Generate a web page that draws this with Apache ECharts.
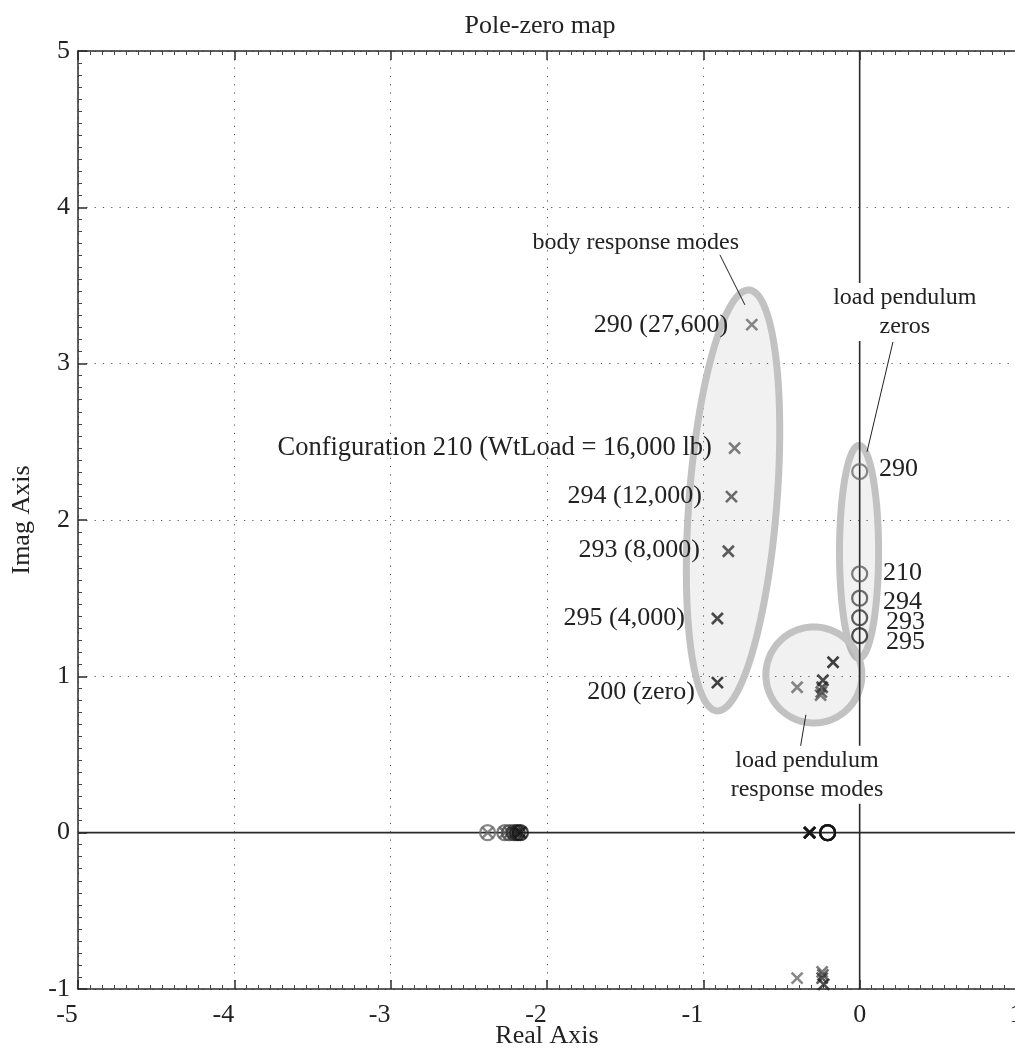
<!DOCTYPE html>
<html>
<head>
<meta charset="utf-8">
<script src="https://cdn.jsdelivr.net/npm/echarts@6/dist/echarts.min.js"></script>
<style>
html,body{margin:0;padding:0;background:#fff;}
#c{width:1015px;height:1055px;}
</style>
</head>
<body>
<div id="c"></div>
<script>
// ---------- data ----------
const configs = ['290', '210', '294', '293', '295', '200'];
const configLabels = ['290 (27,600)', 'Configuration 210 (WtLoad = 16,000 lb)', '294 (12,000)', '293 (8,000)', '295 (4,000)', '200 (zero)'];

// poles [real, imag]
const poles290 = [[-0.69, 3.25], [-0.40, 0.93], [-0.40, -0.93], [-2.38, 0], [-0.32, 0]];
const poles210 = [[-0.80, 2.46], [-0.25, 0.88], [-0.24, -0.89], [-2.27, 0], [-0.32, 0]];
const poles294 = [[-0.82, 2.15], [-0.245, 0.90], [-0.235, -0.91], [-2.24, 0], [-0.32, 0]];
const poles293 = [[-0.84, 1.80], [-0.24, 0.93], [-0.24, -0.93], [-2.21, 0], [-0.32, 0]];
const poles295 = [[-0.91, 1.37], [-0.235, 0.975], [-0.23, -0.97], [-2.19, 0], [-0.32, 0]];
const poles200 = [[-0.91, 0.96], [-0.17, 1.09], [-0.17, -1.09], [-2.17, 0], [-0.32, 0]];

// zeros [real, imag]
const zeros290 = [[0, 2.31], [-2.38, 0], [-0.205, 0]];
const zeros210 = [[0, 1.655], [-2.27, 0], [-0.205, 0]];
const zeros294 = [[0, 1.50], [-2.24, 0], [-0.205, 0]];
const zeros293 = [[0, 1.375], [-2.21, 0], [-0.205, 0]];
const zeros295 = [[0, 1.26], [-2.19, 0], [-0.205, 0]];
const zeros200 = [[-2.17, 0], [-0.205, 0]];

const xMin = -5, xMax = 1, yMin = -1, yMax = 5;

// ---------- annotation layout (data units) ----------
const ellipses = [
  { c: [-0.810, 2.125], a: 1.35, b: 0.281, tilt: 4.4 },
  { c: [-0.004, 1.796], a: 0.681, b: 0.125, tilt: 0 },
  { c: [-0.293, 1.009], a: 0.307, b: 0.307, tilt: 0 }
];
const leaders = [
  [[-0.894, 3.696], [-0.734, 3.376]],
  [[0.213, 3.139], [0.047, 2.436]],
  [[-0.344, 0.754], [-0.382, 0.530]]
];
const notes = [
  { text: 'body response modes', at: [-1.432, 3.773], align: 'center', size: 24, bg: false },
  { text: 'load pendulum\nzeros', at: [0.289, 3.331], align: 'center', size: 24, bg: true },
  { text: 'load pendulum\nresponse modes', at: [-0.337, 0.370], align: 'center', size: 24, bg: true },
  { text: configLabels[0], at: [-0.842, 3.248], align: 'right', size: 26 },
  { text: configLabels[1], at: [-0.945, 2.461], align: 'right', size: 26.5 },
  { text: configLabels[2], at: [-1.009, 2.154], align: 'right', size: 26 },
  { text: configLabels[3], at: [-1.022, 1.808], align: 'right', size: 26 },
  { text: configLabels[4], at: [-1.118, 1.373], align: 'right', size: 26 },
  { text: configLabels[5], at: [-1.054, 0.900], align: 'right', size: 26 },
  { text: configs[0], at: [0.123, 2.327], align: 'left', size: 26 },
  { text: configs[1], at: [0.149, 1.662], align: 'left', size: 26 },
  { text: configs[2], at: [0.149, 1.476], align: 'left', size: 26 },
  { text: configs[3], at: [0.168, 1.348], align: 'left', size: 26 },
  { text: configs[4], at: [0.168, 1.220], align: 'left', size: 26 }
];

// ---------- styles ----------
const FONT = '"Liberation Serif", "Times New Roman", serif';
const TXT = '#222';
const shade = { '290': '#6a6a6a', '210': '#5c5c5c', '294': '#4a4a4a', '293': '#353535', '295': '#202020', '200': '#111111' };
const polesBy = [poles290, poles210, poles294, poles293, poles295, poles200];
const zerosBy = [zeros290, zeros210, zeros294, zeros293, zeros295, zeros200];

const chart = echarts.init(document.getElementById('c'));

const series = [];
// ellipses (fills + outlines)
series.push({
  type: 'custom', z: 1, silent: true,
  data: ellipses.map(e => e.c),
  renderItem: function (params, api) {
    const e = ellipses[params.dataIndex];
    const th = e.tilt * Math.PI / 180;
    const pts = [];
    for (let i = 0; i < 180; i++) {
      const t = i / 180 * 2 * Math.PI;
      const dx = e.b * Math.cos(t), dy = e.a * Math.sin(t);
      pts.push(api.coord([e.c[0] + dx * Math.cos(th) + dy * Math.sin(th), e.c[1] - dx * Math.sin(th) + dy * Math.cos(th)]));
    }
    return { type: 'polygon', shape: { points: pts }, style: { fill: 'rgba(0,0,0,0.055)', stroke: '#c2c2c2', lineWidth: 7 } };
  }
});
// zero axes
series.push({ type: 'line', z: 3, silent: true, symbol: 'none', data: [[xMin, 0], [xMax, 0]], lineStyle: { color: '#2a2a2a', width: 1.6 } });
series.push({ type: 'line', z: 3, silent: true, symbol: 'none', data: [[0, yMin], [0, yMax]], lineStyle: { color: '#2a2a2a', width: 1.6 } });

// poles and zeros
configs.forEach((cfg, i) => {
  series.push({
    type: 'scatter', name: 'poles ' + cfg, z: 5, silent: true, clip: true,
    data: polesBy[i],
    symbol: 'path://M0,0L10,10M10,0L0,10', symbolSize: 11,
    itemStyle: { color: 'none', borderColor: shade[cfg], borderWidth: 2.6 }
  });
  series.push({
    type: 'scatter', name: 'zeros ' + cfg, z: 5, silent: true, clip: true,
    data: zerosBy[i],
    symbol: 'circle', symbolSize: 15,
    itemStyle: { color: 'none', borderColor: shade[cfg], borderWidth: 2.2 }
  });
});

// leader lines
series.push({
  type: 'custom', z: 6, silent: true,
  data: leaders.map(l => l[0]),
  renderItem: function (params, api) {
    const l = leaders[params.dataIndex];
    const p1 = api.coord(l[0]), p2 = api.coord(l[1]);
    return { type: 'line', shape: { x1: p1[0], y1: p1[1], x2: p2[0], y2: p2[1] }, style: { stroke: '#222', lineWidth: 1 } };
  }
});
// text notes
series.push({
  type: 'custom', z: 7, silent: true,
  data: notes.map(n => n.at),
  renderItem: function (params, api) {
    const n = notes[params.dataIndex];
    const p = api.coord(n.at);
    return {
      type: 'text', x: p[0], y: p[1],
      style: {
        text: n.text, fill: TXT, fontSize: n.size, fontFamily: FONT,
        align: n.align, verticalAlign: 'middle', lineHeight: 29,
        backgroundColor: n.bg ? '#ffffff' : null
      }
    };
  }
});

const axisLineStyle = { color: '#2a2a2a', width: 1.5 };
const option = {
  animation: false,
  backgroundColor: '#ffffff',
  title: {
    text: 'Pole-zero map', left: 535, top: 8, textAlign: 'center',
    textStyle: { fontFamily: FONT, fontSize: 26, fontWeight: 'normal', color: TXT }
  },
  grid: { left: 78, top: 51, width: 938, height: 938, containLabel: false, outerBoundsMode: 'none' },
  xAxis: [{
    type: 'value', min: xMin, max: xMax, interval: 1, position: 'bottom',
    name: 'Real Axis', nameLocation: 'middle', nameGap: 34, nameMoveOverlap: false,
    nameTextStyle: { fontFamily: FONT, fontSize: 26, color: TXT },
    axisLine: { show: true, onZero: false, lineStyle: axisLineStyle },
    axisTick: { show: true, inside: true, length: 9, lineStyle: axisLineStyle },
    minorTick: { show: true, splitNumber: 13, length: 4, lineStyle: { color: '#444', width: 1 } },
    splitLine: { show: true, lineStyle: { color: '#555', width: 1, type: [1.2, 7.1] } },
    axisLabel: {
      fontFamily: FONT, fontSize: 26, color: TXT, margin: 13, showMaxLabel: true, showMinLabel: true,
      formatter: v => v < 0 ? '{n|' + v + '}' : '{p|' + v + '}',
      rich: {
        n: { fontFamily: FONT, fontSize: 26, color: TXT, padding: [0, 22, 0, 0] },
        p: { fontFamily: FONT, fontSize: 26, color: TXT }
      }
    }
  }, {
    type: 'value', min: xMin, max: xMax, interval: 1, position: 'top',
    axisLine: { show: true, onZero: false, lineStyle: axisLineStyle },
    axisTick: { show: true, inside: true, length: 9, lineStyle: axisLineStyle },
    minorTick: { show: true, splitNumber: 13, length: 4, lineStyle: { color: '#444', width: 1 } },
    splitLine: { show: false },
    axisLabel: { show: false }
  }],
  yAxis: [{
    type: 'value', min: yMin, max: yMax, interval: 1, position: 'left',
    name: 'Imag Axis', nameLocation: 'middle', nameGap: 43, nameRotate: 90,
    nameTextStyle: { fontFamily: FONT, fontSize: 26, color: TXT },
    axisLine: { show: true, onZero: false, lineStyle: axisLineStyle },
    axisTick: { show: true, inside: true, length: 9, lineStyle: axisLineStyle },
    minorTick: { show: true, splitNumber: 13, length: 4, lineStyle: { color: '#444', width: 1 } },
    splitLine: { show: true, lineStyle: { color: '#555', width: 1, type: [1.2, 7.1] } },
    axisLabel: { fontFamily: FONT, fontSize: 26, color: TXT, margin: 8, showMaxLabel: true, showMinLabel: true }
  }],
  series: series
};
chart.setOption(option);
</script>
</body>
</html>
